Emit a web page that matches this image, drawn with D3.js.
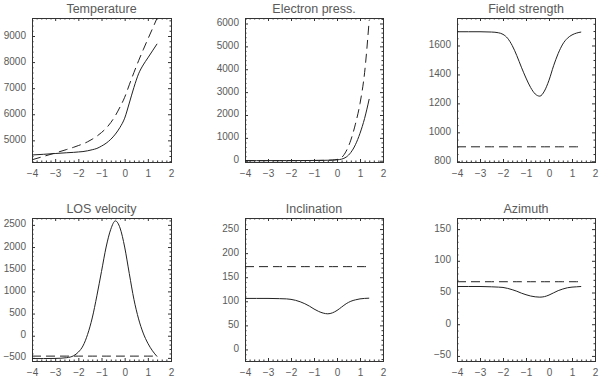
<!DOCTYPE html>
<html><head><meta charset="utf-8">
<script src="https://cdn.jsdelivr.net/npm/d3@7"></script>
<style>
html,body{margin:0;padding:0;background:#fff;}
svg{display:block;}
text{font-family:"Liberation Sans",Arial,sans-serif;fill:#5a5a5a;}
</style></head>
<body>
<svg id="chart" width="600" height="378"></svg>
<script>
// ---- data ----
const logTau = [-4,-3.5,-3,-2.5,-2.2,-2,-1.8,-1.6,-1.4,-1.2,-1,-0.8,-0.6,-0.4,-0.2,0,0.2,0.4,0.6,0.8,1,1.2,1.4];
const xTicks = [-4,-3,-2,-1,0,1,2];

const titles = ["Temperature","Electron press.","Field strength","LOS velocity","Inclination","Azimuth"];

const tempSolid  = [4440,4465,4495,4525,4540,4555,4570,4600,4640,4690,4780,4890,5040,5240,5500,5850,6430,7030,7550,7890,8160,8430,8700];
const tempDashed = [4255,4385,4515,4650,4735,4800,4865,4945,5045,5160,5300,5465,5680,5950,6280,6650,7130,7600,8050,8470,8880,9280,9690];

const pelSolid  = [5,5,6,6,7,7,8,9,10,11,13,15,18,22,28,40,70,160,360,700,1200,1850,2700];
const pelDashed = [4,4,5,5,6,6,7,8,9,10,12,14,17,21,30,55,140,420,900,1600,2500,3850,6150];

const fieldSolid  = [1695,1695,1695,1693,1688,1677,1650,1600,1530,1450,1375,1310,1265,1250,1285,1360,1460,1545,1610,1650,1673,1686,1693];
const fieldDashed = [900,900,900,900,900,900,900,900,900,900,900,900,900,900,900,900,900,900,900,900,900,900,900];

const vlosSolid  = [-515,-515,-512,-495,-450,-370,-230,30,400,900,1450,2000,2400,2590,2430,2000,1400,820,380,60,-170,-340,-470];
const vlosDashed = [-460,-460,-460,-460,-460,-460,-460,-460,-460,-460,-460,-460,-460,-460,-460,-460,-460,-460,-460,-460,-460,-460,-460];

const inclSolid  = [106,106,106,105.5,105,104,102,99,95,90,84,79,75.5,74,76,81,88,95,100,103,105,106,106.5];
const inclDashed = [172,172,172,172,172,172,172,172,172,172,172,172,172,172,172,172,172,172,172,172,172,172,172];

const azimSolid  = [59.5,59.5,59.5,59,58.5,58,56.5,54.5,52,49,46.5,44.5,43.2,42.7,43.5,46,49.5,53,55.5,57.5,58.5,59,59.5];
const azimDashed = [67,67,67,67,67,67,67,67,67,67,67,67,67,67,67,67,67,67,67,67,67,67,67];

const tempTicks  = [5000,6000,7000,8000,9000];
const pelTicks   = [0,1000,2000,3000,4000,5000,6000];
const fieldTicks = [800,1000,1200,1400,1600];
const vlosTicks  = [-500,0,500,1000,1500,2000,2500];
const inclTicks  = [0,50,100,150,200,250];
const azimTicks  = [-50,0,50,100,150];

const tempRange  = [4170, 9690];
const pelRange   = [-55, 6240];
const fieldRange = [795, 1790];
const vlosRange  = [-570, 2655];
const inclRange  = [-24, 273];
const azimRange  = [-58, 167.5];

const minorSteps = [200, 200, 50, 100, 10, 10];
const xMinorStep = 0.2;

// ---- layout ----
const colX = [[32,171],[245,383],[457,595]];
const rowY = [[18,162],[218,361]];

const panels = [
  {solid: tempSolid,  dashed: tempDashed,  ticks: tempTicks,  range: tempRange},
  {solid: pelSolid,   dashed: pelDashed,   ticks: pelTicks,   range: pelRange},
  {solid: fieldSolid, dashed: fieldDashed, ticks: fieldTicks, range: fieldRange},
  {solid: vlosSolid,  dashed: vlosDashed,  ticks: vlosTicks,  range: vlosRange},
  {solid: inclSolid,  dashed: inclDashed,  ticks: inclTicks,  range: inclRange},
  {solid: azimSolid,  dashed: azimDashed,  ticks: azimTicks,  range: azimRange}
];

const svg = d3.select("#chart");
const fmt = v => (v < 0 ? "\u2212" + Math.abs(v) : String(v));
const stroke = "#333";

panels.forEach((p, i) => {
  const c = colX[i % 3], r = rowY[Math.floor(i / 3)];
  const x = d3.scaleLinear().domain([-4, 2]).range([c[0], c[1]]);
  const y = d3.scaleLinear().domain(p.range).range([r[1], r[0]]);
  const g = svg.append("g");

  const xMinor = d3.range(-4, 2.0001, xMinorStep).filter(v => Math.abs(v - Math.round(v)) > 1e-6);
  const yStep = minorSteps[i];
  const yStart = Math.ceil(p.range[0] / yStep) * yStep;
  const yMinor = d3.range(yStart, p.range[1], yStep).filter(v => !p.ticks.includes(v));

  const majLen = 3, minLen = 1.5;
  const ax = d3.axisBottom(x).tickValues(xTicks).tickSizeInner(-majLen).tickSizeOuter(0).tickPadding(8).tickFormat(fmt);
  const gx = g.append("g").attr("transform", `translate(0,${r[1]})`).call(ax);
  g.append("g").attr("transform", `translate(0,${r[1]})`).call(d3.axisBottom(x).tickValues(xMinor).tickSizeInner(-minLen).tickSizeOuter(0).tickFormat(""));
  g.append("g").attr("transform", `translate(0,${r[0]})`).call(d3.axisTop(x).tickValues(xTicks).tickSizeInner(-majLen).tickSizeOuter(0).tickFormat(""));
  g.append("g").attr("transform", `translate(0,${r[0]})`).call(d3.axisTop(x).tickValues(xMinor).tickSizeInner(-minLen).tickSizeOuter(0).tickFormat(""));
  const gy = g.append("g").attr("transform", `translate(${c[0]},0)`).call(d3.axisLeft(y).tickValues(p.ticks).tickSizeInner(-majLen).tickSizeOuter(0).tickPadding(6).tickFormat(fmt));
  g.append("g").attr("transform", `translate(${c[0]},0)`).call(d3.axisLeft(y).tickValues(yMinor).tickSizeInner(-minLen).tickSizeOuter(0).tickFormat(""));
  g.append("g").attr("transform", `translate(${c[1]},0)`).call(d3.axisRight(y).tickValues(p.ticks).tickSizeInner(-majLen).tickSizeOuter(0).tickFormat(""));
  g.append("g").attr("transform", `translate(${c[1]},0)`).call(d3.axisRight(y).tickValues(yMinor).tickSizeInner(-minLen).tickSizeOuter(0).tickFormat(""));

  g.selectAll(".domain").remove();
  g.selectAll(".tick line").attr("stroke", stroke);
  g.selectAll(".tick text").attr("font-size", 10).attr("fill", "#5a5a5a")
    .attr("font-family", "Liberation Sans, Arial, sans-serif");
  gy.selectAll(".tick text").attr("dy", "0.2em");
  gx.selectAll(".tick text").attr("dy", "0.71em");

  g.append("rect").attr("x", c[0] + 0.5).attr("y", r[0] + 0.5)
    .attr("width", c[1] - c[0]).attr("height", r[1] - r[0])
    .attr("fill", "none").attr("stroke", stroke).attr("stroke-width", 1);

  const pts = arr => logTau.map((t, k) => [t, arr[k]]);
  const line = d3.line().x(d => x(d[0])).y(d => y(d[1])).curve(d3.curveMonotoneX);
  g.append("path").attr("d", line(pts(p.solid))).attr("fill", "none").attr("stroke", "#222").attr("stroke-width", 1);
  g.append("path").attr("d", line(pts(p.dashed))).attr("fill", "none").attr("stroke", "#222").attr("stroke-width", 1).attr("stroke-dasharray", "9,5");

  g.append("text").attr("x", (c[0] + c[1]) / 2).attr("y", r[0] - 5)
    .attr("text-anchor", "middle").attr("font-size", 12.5).attr("fill", "#5a5a5a").text(titles[i]);
});
</script>
</body></html>
